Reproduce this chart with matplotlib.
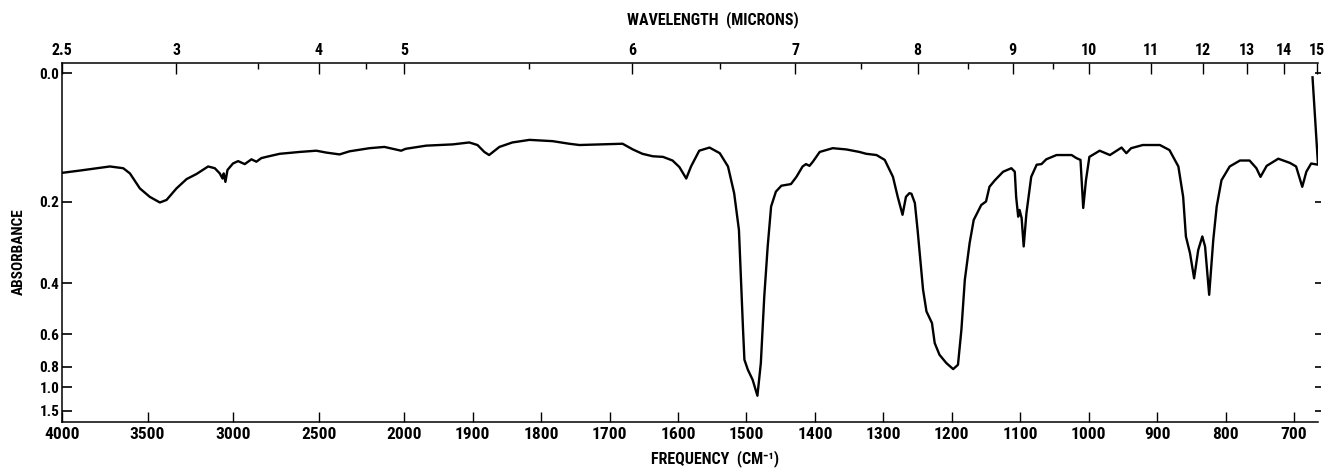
import numpy as np
import matplotlib
matplotlib.use("Agg")
import matplotlib.pyplot as plt
from matplotlib.ticker import FixedLocator, FixedFormatter, NullFormatter

plt.rcParams['font.family'] = ['Liberation Sans Narrow', 'Roboto Condensed', 'Open Sans Condensed',
                               'DejaVu Sans Condensed', 'Liberation Sans', 'DejaVu Sans']
plt.rcParams['font.stretch'] = 'condensed'
plt.rcParams['font.weight'] = 'bold'

# ---- data ----
wavenumber = [4000, 3895, 3720, 3642, 3603, 3545, 3487, 3428, 3389, 3331, 3272, 3214,
              3146, 3107, 3078, 3062, 3055, 3045, 3033, 3001, 2971, 2932, 2893, 2864,
              2835, 2806, 2728, 2611, 2514, 2456, 2378, 2320, 2203, 2116, 2067, 2018,
              1998, 1968, 1929, 1905, 1893, 1883, 1876, 1861, 1842, 1817, 1783, 1759,
              1744, 1681, 1666, 1652, 1637, 1622, 1608, 1598, 1588, 1581, 1569, 1554,
              1539, 1527, 1518, 1511, 1508, 1505, 1503, 1498, 1491, 1484, 1479, 1474,
              1469, 1464, 1457, 1449, 1435, 1427, 1418, 1413, 1408, 1403, 1393, 1374,
              1354, 1335, 1325, 1310, 1298, 1286, 1279, 1272, 1267, 1262, 1259, 1254,
              1250, 1242, 1237, 1229, 1225, 1218, 1208, 1198, 1191, 1186, 1181, 1174,
              1168, 1157, 1150, 1145, 1137, 1125, 1113, 1108, 1106, 1103, 1101, 1098,
              1095, 1091, 1084, 1076, 1069, 1062, 1047, 1025, 1018, 1012, 1008, 1004,
              999, 984, 969, 952, 945, 938, 921, 896, 882, 869, 862, 858,
              852, 846, 840, 834, 830, 824, 818, 813, 806, 794, 779, 765,
              755, 749, 740, 723, 706, 697, 688, 682, 675, 665, 673]
absorbance = [0.146, 0.142, 0.135, 0.138, 0.147, 0.174, 0.190, 0.201, 0.196, 0.174, 0.157, 0.148,
              0.135, 0.138, 0.147, 0.156, 0.147, 0.162, 0.141, 0.130, 0.126, 0.131, 0.123, 0.127,
              0.121, 0.119, 0.114, 0.111, 0.109, 0.112, 0.115, 0.110, 0.105, 0.103, 0.106, 0.109,
              0.106, 0.101, 0.099, 0.096, 0.100, 0.111, 0.116, 0.103, 0.096, 0.092, 0.094, 0.098,
              0.100, 0.098, 0.107, 0.114, 0.118, 0.119, 0.125, 0.136, 0.156, 0.135, 0.109, 0.104,
              0.113, 0.135, 0.183, 0.259, 0.390, 0.578, 0.748, 0.824, 0.917, 1.123, 0.772, 0.444,
              0.298, 0.209, 0.180, 0.169, 0.166, 0.153, 0.135, 0.131, 0.134, 0.127, 0.111, 0.105,
              0.107, 0.111, 0.114, 0.116, 0.124, 0.153, 0.190, 0.226, 0.190, 0.183, 0.184, 0.202,
              0.259, 0.421, 0.499, 0.547, 0.645, 0.715, 0.772, 0.819, 0.785, 0.578, 0.390, 0.290,
              0.237, 0.206, 0.199, 0.171, 0.159, 0.144, 0.138, 0.144, 0.190, 0.230, 0.216, 0.233,
              0.298, 0.223, 0.153, 0.132, 0.131, 0.123, 0.116, 0.116, 0.121, 0.124, 0.212, 0.159,
              0.119, 0.109, 0.116, 0.104, 0.113, 0.105, 0.100, 0.100, 0.108, 0.135, 0.190, 0.274,
              0.315, 0.385, 0.307, 0.274, 0.298, 0.438, 0.282, 0.209, 0.159, 0.135, 0.125, 0.125,
              0.138, 0.153, 0.134, 0.122, 0.129, 0.135, 0.171, 0.144, 0.130, 0.132, 0.005]

freq_ticks = [4000, 3500, 3000, 2500, 2000, 1900, 1800, 1700, 1600, 1500, 1400,
              1300, 1200, 1100, 1000, 900, 800, 700]
freq_labels = [str(v) for v in freq_ticks]
abs_ticks = [0.0, 0.2, 0.4, 0.6, 0.8, 1.0, 1.5]
abs_labels = ['0.0', '0.2', '0.4', '0.6', '0.8', '1.0', '1.5']
wl_major = [2.5, 3, 4, 5, 6, 7, 8, 9, 10, 11, 12, 13, 14, 15]
wl_major_labels = ['2.5', '3', '4', '5', '6', '7', '8', '9', '10', '11', '12', '13', '14', '15']
wl_minor = [3.5, 4.5, 5.5, 6.5, 7.5, 8.5, 9.5]


# ---- scales: grating-change wavenumber axis, transmittance-linear absorbance ----
def fx(nu):
    nu = np.asarray(nu, float)
    return np.where(nu > 2000, 2000 + (nu - 2000) / 4.0, nu)


def fx_inv(u):
    u = np.asarray(u, float)
    return np.where(u > 2000, 2000 + (u - 2000) * 4.0, u)


def fy(a):
    a = np.asarray(a, float)
    return 1 - 10.0 ** (-a)


def fy_inv(u):
    u = np.clip(np.asarray(u, float), -np.inf, 1 - 1e-12)
    return -np.log10(1 - u)


fig = plt.figure(figsize=(13.25, 4.69), dpi=100)
ax = fig.add_axes([62 / 1325, 1 - 422 / 469, (1318 - 62) / 1325, (422 - 62.7) / 469])

ax.set_xscale('function', functions=(fx, fx_inv))
ax.set_yscale('function', functions=(fy, fy_inv))
XLIM = (4000, 665)
YLIM = (8.0, -np.log10(1.0304))
ax.set_xlim(*XLIM)
ax.set_ylim(*YLIM)

ax.plot(wavenumber, absorbance, color='black', lw=1.7, solid_joinstyle='round')

for s in ['left', 'top', 'bottom']:
    ax.spines[s].set_linewidth(1.1)
ax.spines['right'].set_visible(False)

ax.xaxis.set_major_locator(FixedLocator(freq_ticks))
ax.xaxis.set_major_formatter(FixedFormatter(freq_labels))
ax.xaxis.set_minor_locator(FixedLocator([]))
ax.yaxis.set_major_locator(FixedLocator(abs_ticks))
ax.yaxis.set_major_formatter(FixedFormatter(abs_labels))
ax.yaxis.set_minor_locator(FixedLocator([]))
ax.tick_params(axis='x', which='major', direction='in', length=7.5, width=1.0,
               top=False, bottom=True, labelsize=12.5, pad=3.5)
ax.tick_params(axis='y', which='major', direction='in', length=7.5, width=1.2,
               left=True, right=False, labelsize=11, pad=2)

ax.set_ylabel('ABSORBANCE', fontsize=11, fontweight='bold')
ax.yaxis.set_label_coords(-0.029, 0.474)

# top wavelength axis
ax2 = ax.twiny()
ax2.set_xscale('function', functions=(fx, fx_inv))
ax2.set_xlim(*XLIM)
ax2.xaxis.set_major_locator(FixedLocator([1e4 / w for w in wl_major]))
ax2.xaxis.set_major_formatter(FixedFormatter(wl_major_labels))
ax2.xaxis.set_minor_locator(FixedLocator([1e4 / w for w in wl_minor]))
ax2.xaxis.set_minor_formatter(NullFormatter())
ax2.tick_params(axis='x', which='major', direction='in', length=8, width=1.0,
                labelsize=11.5, pad=3.5)
ax2.tick_params(axis='x', which='minor', direction='in', length=4.5, width=1.0)
for s in ax2.spines.values():
    s.set_visible(False)

# right-side short tick dashes
ax3 = ax.twinx()
ax3.set_yscale('function', functions=(fy, fy_inv))
ax3.set_ylim(*YLIM)
ax3.yaxis.set_major_locator(FixedLocator(abs_ticks))
ax3.yaxis.set_major_formatter(NullFormatter())
ax3.yaxis.set_minor_locator(FixedLocator([]))
ax3.tick_params(axis='y', which='major', direction='inout', length=4.5, width=1.2)
for s in ax3.spines.values():
    s.set_visible(False)

fig.text(715 / 1325, 1 - 459 / 469, 'FREQUENCY  (CM⁻¹)', ha='center', va='center',
         fontsize=11.5, fontweight='bold')
fig.text(713 / 1325, 1 - 20 / 469, 'WAVELENGTH  (MICRONS)', ha='center', va='center',
         fontsize=11.5, fontweight='bold')

fig.savefig('out.png', dpi=100)
